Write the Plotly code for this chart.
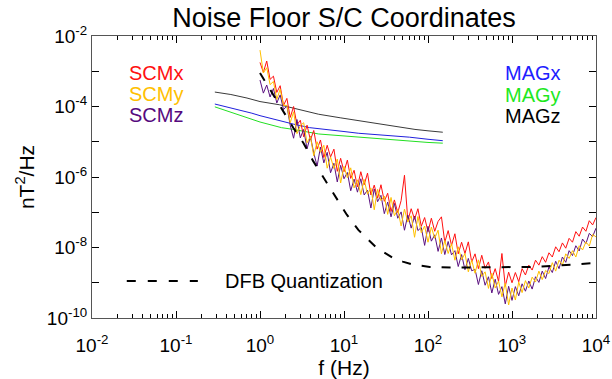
import plotly.graph_objects as go

# ---------------- data ----------------
# SCM spectra: common log10 frequency grid (Hz) and log10 PSD values (nT^2/Hz)
scm_logf = [0.00, 0.04, 0.08, 0.12, 0.16, 0.20, 0.24, 0.28, 0.32, 0.36,
            0.40, 0.44, 0.48, 0.52, 0.56, 0.60, 0.64, 0.68, 0.72, 0.76,
            0.80, 0.84, 0.88, 0.92, 0.96, 1.00, 1.04, 1.08, 1.12, 1.16,
            1.20, 1.24, 1.28, 1.32, 1.36, 1.40, 1.44, 1.48, 1.52, 1.56,
            1.60, 1.64, 1.68, 1.72, 1.76, 1.80, 1.84, 1.88, 1.92, 1.96,
            2.00, 2.04, 2.08, 2.12, 2.16, 2.20, 2.24, 2.28, 2.32, 2.36,
            2.40, 2.44, 2.48, 2.52, 2.56, 2.60, 2.64, 2.68, 2.72, 2.76,
            2.80, 2.84, 2.88, 2.92, 2.96, 3.00, 3.04, 3.08, 3.12, 3.16,
            3.20, 3.24, 3.28, 3.32, 3.36, 3.40, 3.44, 3.48, 3.52, 3.56,
            3.60, 3.64, 3.68, 3.72, 3.76, 3.80, 3.84, 3.88, 3.92, 3.96, 4.00]

scmx_log = [-2.75, -3.03, -2.71, -3.23, -3.14, -3.60, -3.41, -3.97, -3.77, -4.31,
            -4.00, -4.52, -4.39, -4.86, -4.53, -4.95, -4.68, -5.21, -4.95, -5.45,
            -5.10, -5.43, -5.21, -5.84, -5.47, -5.85, -5.52, -6.04, -5.81, -6.28,
            -5.85, -6.22, -5.89, -6.51, -6.23, -6.60, -6.22, -6.69, -6.46, -6.98,
            -6.65, -7.01, -6.67, -5.95, -7.24, -6.90, -7.20, -6.90, -7.40, -7.15,
            -7.55, -7.17, -7.54, -7.26, -7.13, -7.85, -7.52, -7.94, -7.61, -8.18,
            -7.85, -8.17, -7.84, -8.41, -8.18, -8.60, -8.22, -8.59, -8.41, -8.88,
            -8.60, -8.96, -8.17, -9.10, -8.70, -9.00, -8.71, -8.97, -8.60, -8.78,
            -8.50, -8.64, -8.36, -8.50, -8.26, -8.42, -8.15, -8.27, -7.98, -8.12,
            -7.87, -8.02, -7.74, -7.85, -7.55, -7.68, -7.42, -7.54, -7.24, -7.36, -7.15]

scmy_log = [-2.40, -3.05, -2.90, -3.38, -3.29, -3.80, -3.51, -3.97, -3.97, -4.46,
            -4.15, -4.77, -4.54, -4.46, -5.03, -4.85, -5.40, -5.00, -5.30, -5.10,
            -5.75, -5.43, -5.76, -5.49, -6.17, -5.70, -6.02, -5.74, -6.31, -6.08,
            -6.50, -6.07, -6.49, -6.31, -6.93, -6.35, -6.67, -6.54, -7.06, -6.58,
            -7.10, -6.92, -7.39, -6.91, -7.28, -7.10, -7.71, -7.12, -7.58, -7.39,
            -7.85, -7.42, -7.74, -7.51, -8.18, -7.80, -8.17, -7.89, -8.36, -7.98,
            -8.35, -8.17, -8.69, -8.36, -8.73, -8.35, -8.82, -8.69, -9.16, -8.73,
            -9.15, -8.95, -9.40, -9.01, -9.63, -9.15, -9.49, -8.98, -9.28, -8.94,
            -9.15, -8.84, -8.98, -8.67, -8.91, -8.65, -8.74, -8.43, -8.67, -8.36,
            -8.50, -8.18, -8.31, -8.09, -8.27, -7.95, -8.07, -7.84, -7.96, -7.63, -7.70]

scmz_log = [-3.25, -3.62, -3.39, -3.73, -3.49, -3.90, -3.67, -4.09, -3.98, -4.54,
            -4.90, -4.37, -4.89, -4.65, -5.20, -4.85, -5.32, -5.69, -5.15, -5.60,
            -5.30, -5.88, -5.61, -6.14, -5.67, -6.05, -5.87, -6.39, -6.06, -6.43,
            -6.05, -6.51, -6.37, -6.88, -6.34, -6.70, -6.52, -7.04, -6.71, -7.13,
            -6.75, -7.17, -6.99, -7.51, -7.08, -7.45, -7.11, -7.52, -7.43, -7.94,
            -7.40, -7.82, -7.64, -8.11, -7.73, -8.20, -7.83, -8.21, -8.09, -8.54,
            -8.20, -8.63, -8.31, -8.66, -8.62, -9.05, -8.66, -9.07, -8.83, -9.29,
            -8.90, -9.33, -9.11, -9.60, -9.10, -9.50, -9.11, -9.37, -9.03, -9.24,
            -8.95, -9.18, -8.83, -8.99, -8.67, -8.88, -8.55, -8.71, -8.39, -8.60,
            -8.27, -8.42, -8.09, -8.23, -7.95, -8.10, -7.76, -7.89, -7.60, -7.69, -7.45]

# MAG spectra (Hz, log10 nT^2/Hz)
magx_f = [0.29, 0.5, 0.8, 1.0, 1.8, 2.5, 3.9, 6, 10, 15, 30, 60, 100, 150]
magx_log = [-3.93, -4.06, -4.19, -4.26, -4.42, -4.50, -4.60, -4.66, -4.71, -4.76, -4.81, -4.87, -4.93, -4.97]

magy_f = [0.29, 0.58, 1.0, 1.8, 2.5, 5, 10, 15, 30, 60, 100, 150]
magy_log = [-4.01, -4.25, -4.44, -4.60, -4.65, -4.78, -4.84, -4.87, -4.93, -4.98, -5.02, -5.04]

magz_f = [0.29, 0.45, 0.7, 1.0, 1.7, 2.5, 3.0, 5.0, 9.0, 15, 25, 40, 70, 100, 150]
magz_log = [-3.59, -3.66, -3.76, -3.86, -3.95, -4.05, -4.09, -4.22, -4.32, -4.40, -4.49, -4.57, -4.65, -4.69, -4.73]

# DFB quantization noise
dfb_f = [1.0, 1.3, 1.8, 2.5, 3.3, 4.3, 6.0, 7.8, 10.8, 14.8, 20, 24.5, 38.6, 50, 67,
         105, 200, 500, 1000, 2000, 3000, 5000, 10000]
dfb_log = [-3.05, -3.50, -4.05, -4.61, -5.04, -5.55, -6.10, -6.55, -7.07, -7.50, -7.82, -8.01,
           -8.30, -8.40, -8.49, -8.55, -8.57, -8.57, -8.56, -8.55, -8.52, -8.49, -8.44]

x_major = [1e-2, 1e-1, 1e0, 1e1, 1e2, 1e3, 1e4]
x_labels = ["10<sup>-2</sup>", "10<sup>-1</sup>", "10<sup>0</sup>", "10<sup>1</sup>",
            "10<sup>2</sup>", "10<sup>3</sup>", "10<sup>4</sup>"]
y_major = [1e-10, 1e-9, 1e-8, 1e-7, 1e-6, 1e-5, 1e-4, 1e-3, 1e-2]
y_labels = ["10<sup>-10</sup>", "", "10<sup>-8</sup>", "", "10<sup>-6</sup>", "",
            "10<sup>-4</sup>", "", "10<sup>-2</sup>"]

# ---------------- figure ----------------
FONT = "Liberation Sans, Arial, Helvetica, sans-serif"

scm_f = [10 ** v for v in scm_logf]
def lin(vals):
    return [10 ** v for v in vals]

fig = go.Figure()
fig.add_trace(go.Scatter(x=magz_f, y=lin(magz_log), mode="lines",
                         line=dict(color="#3a3a3a", width=1), showlegend=False))
fig.add_trace(go.Scatter(x=magx_f, y=lin(magx_log), mode="lines",
                         line=dict(color="#2020dd", width=1), showlegend=False))
fig.add_trace(go.Scatter(x=magy_f, y=lin(magy_log), mode="lines",
                         line=dict(color="#22e022", width=1), showlegend=False))
fig.add_trace(go.Scatter(x=scm_f, y=lin(scmx_log), mode="lines",
                         line=dict(color="#ff1010", width=1), showlegend=False))
fig.add_trace(go.Scatter(x=scm_f, y=lin(scmz_log), mode="lines",
                         line=dict(color="#5a1080", width=1), showlegend=False))
fig.add_trace(go.Scatter(x=scm_f, y=lin(scmy_log), mode="lines",
                         line=dict(color="#ffc000", width=1), showlegend=False))
fig.add_trace(go.Scatter(x=dfb_f, y=lin(dfb_log), mode="lines",
                         line=dict(color="black", width=2, dash="9px,11px"), showlegend=False))

minor_x = [m * 10 ** e for e in range(-2, 4) for m in range(2, 10)]

fig.update_layout(
    width=612, height=379,
    margin=dict(l=92, r=16, t=36, b=61, autoexpand=False),
    paper_bgcolor="white", plot_bgcolor="white",
    font=dict(family=FONT, color="black"),
    title=dict(text="Noise Floor S/C Coordinates", x=0.5, xref="paper",
               y=1 - 18 / 379, yanchor="middle", font=dict(size=27, family=FONT)),
    xaxis=dict(type="log", range=[-2, 4], tickvals=x_major, ticktext=x_labels,
               ticks="inside", ticklen=7, tickcolor="black", mirror="ticks",
               showline=True, linecolor="#555", linewidth=1, showgrid=False, zeroline=False,
               automargin=False, ticklabelstandoff=10,
               tickfont=dict(size=19), title=dict(text="f (Hz)", font=dict(size=21), standoff=6),
               minor=dict(tickvals=minor_x, ticks="inside", ticklen=4, tickcolor="black", showgrid=False)),
    yaxis=dict(type="log", range=[-10, -2], tickvals=y_major, ticktext=y_labels,
               ticks="inside", ticklen=7, tickcolor="black", mirror="ticks",
               showline=True, linecolor="#555", linewidth=1, showgrid=False, zeroline=False,
               automargin=False,
               tickfont=dict(size=19), title=dict(text="nT<sup>2</sup>/Hz", font=dict(size=21), standoff=6)),
)

labels = [("SCMx", "#ff1010", 0.069, 0.870), ("SCMy", "#ffc000", 0.069, 0.794),
          ("SCMz", "#560a7e", 0.069, 0.720), ("MAGx", "#2020ff", 0.815, 0.868),
          ("MAGy", "#1ee81e", 0.815, 0.791), ("MAGz", "black", 0.815, 0.716)]
for txt, col, ax, ay in labels:
    fig.add_annotation(text=txt, x=ax, y=ay, xref="paper", yref="paper",
                       xanchor="left", yanchor="middle", showarrow=False,
                       font=dict(size=20, color=col, family=FONT))

# legend entry for the DFB curve
fig.add_shape(type="line", xref="paper", yref="paper", x0=0.069, x1=0.21, y0=0.131, y1=0.131,
              line=dict(color="black", width=2, dash="9px,12px"))
fig.add_annotation(text="DFB Quantization", x=0.26, y=0.131, xref="paper", yref="paper",
                   xanchor="left", yanchor="middle", showarrow=False,
                   font=dict(size=20, color="black", family=FONT))

fig.write_html("out.html")
